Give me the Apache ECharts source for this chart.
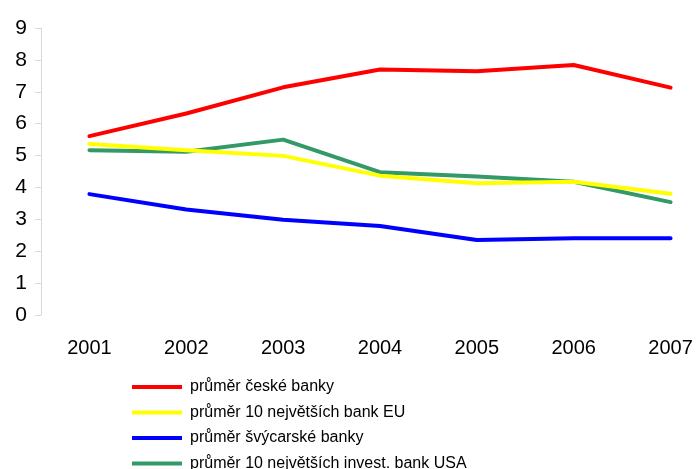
<!DOCTYPE html>
<html>
<head>
<meta charset="utf-8">
<script src="https://cdn.jsdelivr.net/npm/echarts@6/dist/echarts.min.js"></script>
<style>
  html, body { margin: 0; padding: 0; background: #fff; }
  #chart { width: 696px; height: 469px; }
</style>
</head>
<body>
<div id="chart"></div>
<script>
// roky
var years = ['2001', '2002', '2003', '2004', '2005', '2006', '2007'];

// hodnoty
var ceskeBanky = [5.61, 6.32, 7.14, 7.70, 7.64, 7.84, 7.13];
var bankyEU = [5.36, 5.17, 4.99, 4.37, 4.13, 4.18, 3.80];
var svycarskeBanky = [3.79, 3.31, 2.99, 2.79, 2.35, 2.41, 2.41];
var investBankyUSA = [5.17, 5.12, 5.50, 4.48, 4.34, 4.18, 3.54];

var seriesNames = [
    'průměr české banky',
    'průměr 10 největších bank EU',
    'průměr švýcarské banky',
    'průměr 10 největších invest. bank USA'
];
var seriesColors = ['#ff0000', '#ffff00', '#0000ff', '#339966'];
var seriesData = [ceskeBanky, bankyEU, svycarskeBanky, investBankyUSA];

var font = '"Liberation Sans", Arial, sans-serif';

var myChart = echarts.init(document.getElementById('chart'));

var series = seriesNames.map(function (name, i) {
    return {
        name: name,
        type: 'line',
        data: seriesData[i],
        symbol: 'none',
        color: seriesColors[i],
        lineStyle: { width: 4, color: seriesColors[i], cap: 'round', join: 'round' },
        z: 10 - i
    };
});

myChart.setOption({
    animation: false,
    backgroundColor: '#fff',
    grid: { left: 41, width: 678, top: 28, bottom: 154, outerBoundsMode: 'none' },
    xAxis: {
        type: 'category',
        data: years,
        boundaryGap: true,
        axisLine: { show: false },
        axisTick: { show: false },
        axisLabel: { color: '#000', fontSize: 20, fontFamily: font, margin: 23 }
    },
    yAxis: {
        type: 'value',
        min: 0,
        max: 9,
        interval: 1,
        splitLine: { show: false },
        axisLine: { show: true, lineStyle: { color: '#d9d9d9', width: 1 } },
        axisTick: { show: true, length: 6, lineStyle: { color: '#d9d9d9' } },
        axisLabel: { color: '#000', fontSize: 21, fontFamily: font, margin: 14 }
    },
    legend: {
        orient: 'vertical',
        left: 132,
        top: 379,
        padding: 0,
        height: 120,
        icon: 'rect',
        itemWidth: 50,
        itemHeight: 4,
        itemGap: 9.5,
        textStyle: { color: '#000', fontSize: 16, fontFamily: font, padding: [0, 0, 0, 3] },
        data: seriesNames
    },
    series: series
});
</script>
</body>
</html>
